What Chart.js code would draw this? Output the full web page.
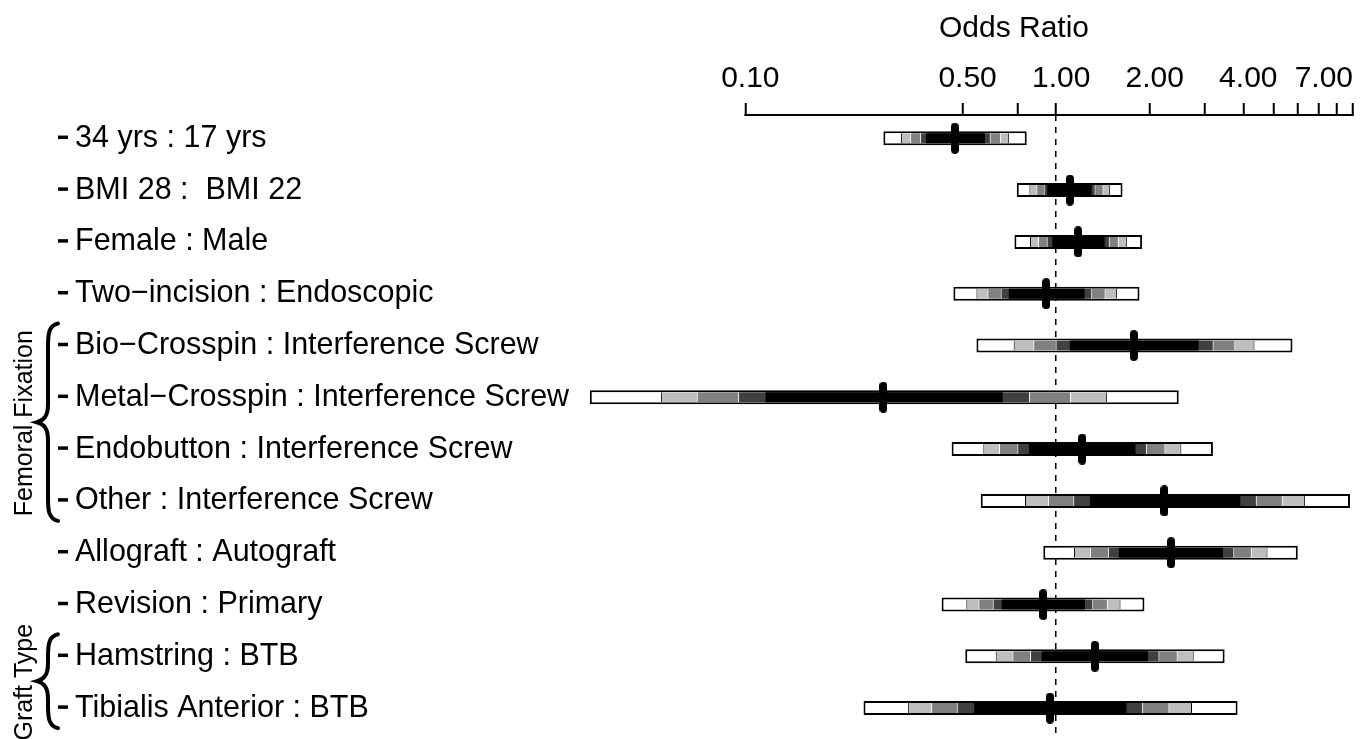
<!DOCTYPE html>
<html>
<head>
<meta charset="utf-8">
<script src="https://cdn.jsdelivr.net/npm/chart.js@4.4.1/dist/chart.umd.min.js"></script>
<style>
  html, body { margin: 0; padding: 0; background: #fff; }
  #wrap { width: 1372px; height: 739px; }
</style>
</head>
<body>
<div id="wrap"><canvas id="c"></canvas></div>
<script>
const FONT = "'Liberation Sans', Arial, Helvetica, sans-serif";

const labels = [
  '34 yrs : 17 yrs',
  'BMI 28 :  BMI 22',
  'Female : Male',
  'Two−incision : Endoscopic',
  'Bio−Crosspin : Interference Screw',
  'Metal−Crosspin : Interference Screw',
  'Endobutton : Interference Screw',
  'Other : Interference Screw',
  'Allograft : Autograft',
  'Revision : Primary',
  'Hamstring : BTB',
  'Tibialis Anterior : BTB'
];

// odds ratio point estimates
const estimate  = [0.472, 1.107, 1.177, 0.929, 1.777, 0.278, 1.213, 2.230, 2.342, 0.909, 1.332, 0.955];
// interval bounds, widest band (white) to narrowest (black)
const lowWhite  = [0.278, 0.747, 0.734, 0.467, 0.554, 0.0316, 0.461, 0.572, 0.909, 0.428, 0.510, 0.240];
const lowLight  = [0.317, 0.820, 0.824, 0.554, 0.730, 0.0535, 0.583, 0.794, 1.141, 0.514, 0.639, 0.334];
const lowMid    = [0.339, 0.863, 0.874, 0.601, 0.844, 0.0698, 0.655, 0.941, 1.284, 0.562, 0.723, 0.396];
const lowDark   = [0.365, 0.912, 0.932, 0.663, 0.996, 0.0948, 0.750, 1.135, 1.467, 0.625, 0.824, 0.479];
const lowBlack  = [0.381, 0.936, 0.972, 0.704, 1.107, 0.1162, 0.818, 1.284, 1.591, 0.668, 0.898, 0.545];
const highBlack = [0.590, 1.300, 1.432, 1.234, 2.873, 0.673, 1.800, 3.912, 3.440, 1.237, 1.975, 1.684];
const highDark  = [0.616, 1.339, 1.488, 1.306, 3.211, 0.824, 1.961, 4.421, 3.741, 1.316, 2.149, 1.904];
const highMid   = [0.665, 1.420, 1.591, 1.442, 3.770, 1.116, 2.247, 5.358, 4.261, 1.467, 2.460, 2.314];
const highLight = [0.706, 1.492, 1.688, 1.571, 4.346, 1.456, 2.528, 6.324, 4.786, 1.611, 2.770, 2.735];
const highWhite = [0.804, 1.635, 1.890, 1.854, 5.757, 2.479, 3.194, 8.818, 5.988, 1.923, 3.483, 3.834];

const xTicks      = [0.1, 0.5, 0.75, 1, 2, 3, 4, 5, 6, 7, 8, 9];
const xTickLabels = ['0.10', '0.50', '', '1.00', '2.00', '', '4.00', '', '', '7.00', '', ''];

const groups = [
  { name: 'Femoral Fixation', from: 4, to: 7 },
  { name: 'Graft Type', from: 10, to: 11 }
];

// pill shaped marker for the estimate
function pill(w, h) {
  const c = document.createElement('canvas');
  c.width = w; c.height = h;
  const g = c.getContext('2d');
  const r = w / 2;
  g.fillStyle = '#000';
  g.beginPath();
  g.arc(r, r, r, Math.PI, 0);
  g.lineTo(w, h - r);
  g.arc(r, h - r, r, 0, Math.PI);
  g.closePath();
  g.fill();
  return c;
}

function seg(lo, hi) {
  return labels.map((_, i) => ({ y: i, x: [lo[i], hi[i]] }));
}

function band(data, color, border, bw, order) {
  return {
    type: 'bar', data, backgroundColor: color, borderColor: border,
    borderWidth: bw, borderSkipped: false, grouped: false,
    barThickness: 10, maxBarThickness: 10, inflateAmount: 0, order
  };
}

function brace(ctx, x, top, bot) {
  const mid = (top + bot) / 2;
  ctx.beginPath();
  ctx.moveTo(x + 10, top);
  ctx.bezierCurveTo(x + 1, top + 2, x, top + 10, x, top + 22);
  ctx.lineTo(x, mid - 18);
  ctx.bezierCurveTo(x, mid - 6, x - 4, mid - 2, x - 11, mid);
  ctx.bezierCurveTo(x - 4, mid + 2, x, mid + 6, x, mid + 18);
  ctx.lineTo(x, bot - 22);
  ctx.bezierCurveTo(x, bot - 10, x + 1, bot - 2, x + 10, bot);
  ctx.stroke();
}

const decor = {
  id: 'decor',
  afterDraw(chart) {
    const { ctx, chartArea, scales: { x, y } } = chart;
    ctx.save();
    ctx.strokeStyle = '#000';
    ctx.fillStyle = '#000';
    // axis line only across the ticked range
    ctx.lineWidth = 2;
    ctx.beginPath();
    ctx.moveTo(x.getPixelForValue(xTicks[0]) - 1, chartArea.top);
    ctx.lineTo(x.getPixelForValue(xTicks[xTicks.length - 1]) + 1, chartArea.top);
    ctx.stroke();
    // axis title
    ctx.font = '30px ' + FONT;
    ctx.textAlign = 'center';
    ctx.textBaseline = 'middle';
    ctx.fillText('Odds Ratio', 1014, 29);
    // small ticks before the row labels
    ctx.lineWidth = 3.5;
    labels.forEach((_, i) => {
      const py = y.getPixelForValue(i) - 1;
      ctx.beginPath();
      ctx.moveTo(58, py);
      ctx.lineTo(68, py);
      ctx.stroke();
    });
    // group braces and labels
    ctx.font = '25px ' + FONT;
    groups.forEach(g => {
      const y0 = y.getPixelForValue(g.from);
      const y1 = y.getPixelForValue(g.to);
      ctx.lineWidth = 4;
      ctx.lineCap = 'round';
      brace(ctx, 48, y0 - 22, y1 + 20);
      ctx.save();
      ctx.translate(25, (y0 + y1) / 2);
      ctx.rotate(-Math.PI / 2);
      ctx.fillText(g.name, 0, 0);
      ctx.restore();
    });
    ctx.restore();
  }
};

Chart.defaults.font.family = FONT;
Chart.defaults.color = '#000';

new Chart(document.getElementById('c'), {
  type: 'bar',
  data: {
    datasets: [
      Object.assign(band(seg(lowWhite, highWhite), '#ffffff', '#000', 2, 5), { barThickness: 14, maxBarThickness: 14 }),
      band(seg(lowLight, highLight), '#bebebe', '#000', { left: 1, right: 1, top: 0, bottom: 0 }, 4),
      band(seg(lowMid, highMid), '#808080', '#fff', { left: 1, right: 1, top: 0, bottom: 0 }, 3),
      band(seg(lowDark, highDark), '#404040', '#fff', { left: 1, right: 1, top: 0, bottom: 0 }, 2),
      band(seg(lowBlack, highBlack), '#000000', '#000', 0, 1),
      {
        type: 'line', data: estimate.map((v, i) => ({ x: v, y: i })),
        showLine: false, pointStyle: pill(8, 31), pointRadius: 4, order: 0
      }
    ]
  },
  options: {
    responsive: true,
    maintainAspectRatio: false,
    animation: false,
    indexAxis: 'y',
    layout: { padding: { left: 75, right: 3, top: 0, bottom: 4 } },
    plugins: { legend: { display: false }, tooltip: { enabled: false } },
    scales: {
      x: {
        type: 'logarithmic', position: 'top', min: 0.03, max: 10, z: 1,
        afterBuildTicks: s => { s.ticks = xTicks.map(v => ({ value: v })); },
        afterFit: s => { s.height = 115; },
        ticks: {
          autoSkip: false, maxRotation: 0, padding: 6, labelOffset: 5, color: '#000',
          font: { size: 30 },
          callback: (v, i) => xTickLabels[i]
        },
        grid: {
          drawOnChartArea: true, drawTicks: true, tickLength: 12, tickWidth: 2, tickColor: '#000',
          lineWidth: 1.5,
          color: c => (c.tick && c.tick.value === 1) ? '#000' : 'rgba(0,0,0,0)'
        },
        border: { display: false, dash: [6, 6] }
      },
      y: {
        type: 'linear', reverse: true, min: -0.45, max: 11.5, bounds: 'data', offset: false,
        afterBuildTicks: s => { s.ticks = labels.map((_, i) => ({ value: i })); },
        afterFit: s => { s.width = 507.8; s.paddingTop = 0; s.paddingBottom = 0; },
        ticks: {
          crossAlign: 'far', padding: 0, color: '#000', autoSkip: false,
          font: { size: 30.5 },
          callback: v => labels[v] ?? ''
        },
        grid: { display: false, offset: false },
        border: { display: false }
      }
    }
  },
  plugins: [decor]
});
</script>
</body>
</html>
